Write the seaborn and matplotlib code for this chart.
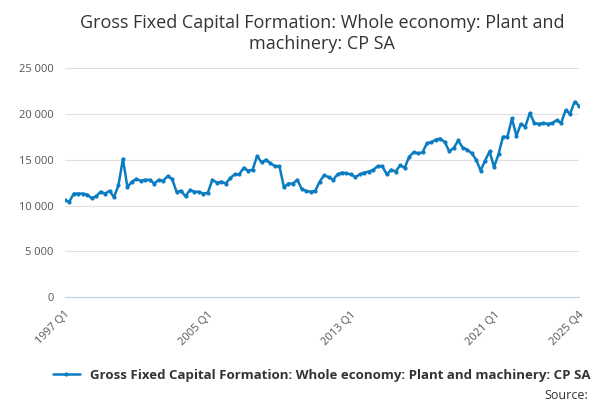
import matplotlib
matplotlib.use("Agg")
import matplotlib.pyplot as plt
import seaborn as sns
import pandas as pd

# quarterly values, 1997 Q1 .. 2025 Q4 (GBP million)
years = list(range(1997, 2026))
values = [
    10600, 10400, 11300, 11300,
    11300, 11200, 10800, 11000,
    11500, 11300, 11600, 10900,
    12200, 15100, 12000, 12600,
    12900, 12700, 12800, 12800,
    12400, 12800, 12700, 13200,
    12900, 11500, 11600, 11000,
    11700, 11500, 11500, 11300,
    11400, 12800, 12500, 12600,
    12400, 13000, 13400, 13400,
    14100, 13800, 13900, 15400,
    14700, 15000, 14600, 14300,
    14300, 12000, 12400, 12400,
    12800, 11800, 11600, 11500,
    11600, 12600, 13300, 13100,
    12800, 13400, 13600, 13500,
    13400, 13100, 13400, 13600,
    13700, 13900, 14300, 14300,
    13400, 13900, 13700, 14400,
    14100, 15300, 15800, 15700,
    15800, 16800, 16900, 17200,
    17300, 16900, 15900, 16300,
    17100, 16300, 16100, 15700,
    15000, 13800, 14900, 15900,
    14200, 15600, 17500, 17500,
    19500, 17600, 18900, 18600,
    20100, 19000, 18900, 19000,
    18900, 19000, 19300, 19000,
    20400, 20000, 21300, 20900,
]
labels = [f"{y} Q{q}" for y in years for q in range(1, 5)]
shown_labels = ["1997 Q1", "2005 Q1", "2013 Q1", "2021 Q1", "2025 Q4"]
series_name = "Gross Fixed Capital Formation: Whole economy: Plant and machinery: CP SA"

df = pd.DataFrame({"idx": range(len(values)), "value": values})

sns.set_style("white")
plt.rcParams["font.family"] = ["Open Sans", "DejaVu Sans"]
color = "#0b7cc1"

fig, ax = plt.subplots(figsize=(6, 4), dpi=100)
fig.subplots_adjust(left=0.108, right=0.965, top=0.83, bottom=0.257)

sns.lineplot(data=df, x="idx", y="value", ax=ax, color=color, linewidth=1.8,
             marker="o", markersize=3, markeredgewidth=0, label=series_name)

ax.set_xlim(0, len(values) - 1)
ax.set_ylim(0, 25000)
ax.set_yticks(range(0, 25001, 5000))
ax.set_yticklabels([f"{v:,}".replace(",", " ") for v in range(0, 25001, 5000)],
                   fontsize=8, color="#555555")
ax.yaxis.grid(True, color="#e0e0e0", linewidth=0.8)
ax.tick_params(axis="y", length=0, pad=8)

ticks = list(range(0, len(values), 8)) + [len(values) - 1]
ax.set_xticks(ticks)
ax.set_xticklabels([labels[t] if labels[t] in shown_labels else "" for t in ticks],
                   rotation=45, ha="right", rotation_mode="anchor",
                   fontsize=8, color="#555555")
ax.tick_params(axis="x", length=5, color="#c0d0e0", width=1)
ax.set_xlabel("")
ax.set_ylabel("")

for s in ["top", "right", "left"]:
    ax.spines[s].set_visible(False)
ax.spines["bottom"].set_color("#c0d0e0")

ax.set_title("Gross Fixed Capital Formation: Whole economy: Plant and\nmachinery: CP SA",
             fontsize=13, color="#333333", pad=14)

leg = ax.legend(loc="upper center", bbox_to_anchor=(0.5, -0.26), frameon=False,
                fontsize=9.5, handlelength=2.0)
for t in leg.get_texts():
    t.set_fontweight("bold")
    t.set_color("#333333")

fig.text(0.98, -0.005, "Source:", ha="right", va="bottom", fontsize=9, color="#333333")

fig.savefig("out.png", dpi=100)
